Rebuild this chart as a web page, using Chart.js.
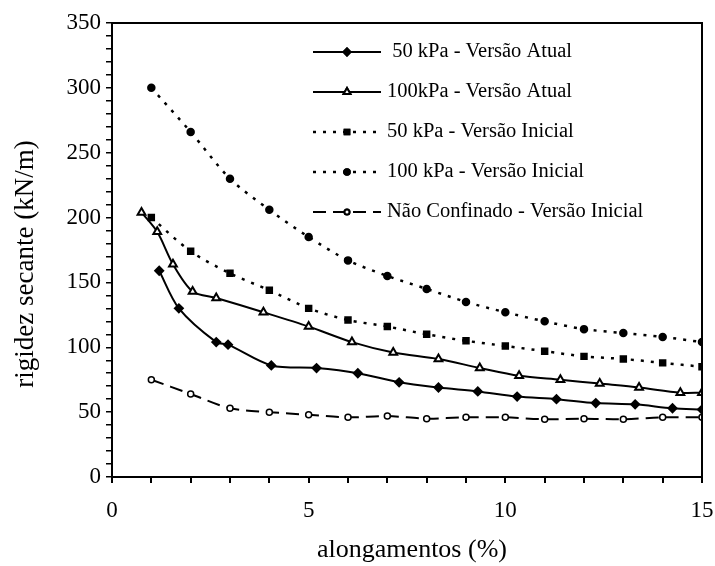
<!DOCTYPE html>
<html>
<head>
<meta charset="utf-8">
<script src="https://cdn.jsdelivr.net/npm/chart.js@4.4.0/dist/chart.umd.min.js"></script>
<style>
  html, body { margin: 0; padding: 0; background: #fff; }
  #wrap { width: 715px; height: 566px; }
</style>
</head>
<body>
<div id="wrap"><canvas id="c" width="715" height="566"></canvas></div>
<script>
// valores
const va50X = [1.2, 1.7, 2.65, 2.95, 4.05, 5.2, 6.25, 7.3, 8.3, 9.3, 10.3, 11.3, 12.3, 13.3, 14.25, 15];
const va50Y = [159, 130, 104, 102, 86, 84, 80, 73, 69, 66, 62, 60, 57, 56, 53, 52];

const va100X = [0.75, 1.15, 1.55, 2.05, 2.65, 3.85, 5, 6.1, 7.15, 8.3, 9.35, 10.35, 11.4, 12.4, 13.4, 14.45, 15];
const va100Y = [204, 189, 164, 143, 138, 127, 116, 104, 96, 91, 84, 78, 75, 72, 69, 65, 65];

const viX = [1, 2, 3, 4, 5, 6, 7, 8, 9, 10, 11, 12, 13, 14, 15];
const vi50Y = [200, 174, 157, 144, 130, 121, 116, 110, 105, 101, 97, 93, 91, 88, 85];
const vi100Y = [300, 266, 230, 206, 185, 167, 155, 145, 135, 127, 120, 114, 111, 108, 104];
const ncY = [75, 64, 53, 50, 48, 46, 47, 45, 46, 46, 44.5, 45, 44.5, 46, 46];

const legendLabels = [
  ' 50 kPa - Versão Atual',
  '100kPa - Versão Atual',
  '50 kPa - Versão Inicial',
  '100 kPa - Versão Inicial',
  'Não Confinado - Versão Inicial'
];
const xTickLabels = [0, 5, 10, 15];
const yTickLabels = [0, 50, 100, 150, 200, 250, 300, 350];
const xTitle = 'alongamentos (%)';
const yTitle = 'rigidez secante (kN/m)';

const FONT = '"Liberation Serif", "Times New Roman", serif';

function pts(xs, ys) {
  return xs.map((x, i) => ({ x: x, y: ys[i] }));
}

const datasets = [
  { label: legendLabels[0], data: pts(va50X, va50Y), borderColor: '#000', borderWidth: 2,
    pointStyle: 'rectRot', pointRadius: 4, pointBackgroundColor: '#000', tension: 0.3 },
  { label: legendLabels[1], data: pts(va100X, va100Y), borderColor: '#000', borderWidth: 2,
    pointStyle: 'triangle', pointRadius: 4.5, pointBackgroundColor: '#fff', pointBorderWidth: 2, tension: 0.3 },
  { label: legendLabels[2], data: pts(viX, vi50Y), borderColor: '#000', borderWidth: 2.5, borderDash: [3, 7],
    pointStyle: 'rect', pointRadius: 3.5, pointBackgroundColor: '#000', tension: 0.3 },
  { label: legendLabels[3], data: pts(viX, vi100Y), borderColor: '#000', borderWidth: 2.5, borderDash: [3, 7],
    pointStyle: 'circle', pointRadius: 3, pointBackgroundColor: '#000', tension: 0.3 },
  { label: legendLabels[4], data: pts(viX, ncY), borderColor: '#000', borderWidth: 2, borderDash: [13, 7],
    pointStyle: 'circle', pointRadius: 3, pointBackgroundColor: '#fff', pointBorderWidth: 1.5, tension: 0.3 }
];

// moldura superior e direita + titulos dos eixos
const framePlugin = {
  id: 'frame',
  afterDraw(chart) {
    const a = chart.chartArea, ctx = chart.ctx;
    ctx.save();
    ctx.strokeStyle = '#000';
    ctx.lineWidth = 2;
    ctx.beginPath();
    ctx.moveTo(a.left, a.top);
    ctx.lineTo(a.right, a.top);
    ctx.lineTo(a.right, a.bottom);
    ctx.stroke();

    ctx.fillStyle = '#000';
    ctx.textAlign = 'center';
    ctx.textBaseline = 'middle';
    ctx.font = '26px ' + FONT;
    ctx.fillText(xTitle, 412, 550);
    ctx.translate(26, 264);
    ctx.rotate(-Math.PI / 2);
    ctx.font = '27px ' + FONT;
    ctx.fillText(yTitle, 0, 0);
    ctx.restore();
  }
};

// legenda desenhada a mao para imitar as amostras de linha
const legendPlugin = {
  id: 'legendBox',
  afterDraw(chart) {
    const ctx = chart.ctx;
    const x0 = 313, x1 = 381, textX = 387, y0 = 52, dy = 40;
    ctx.save();
    chart.data.datasets.forEach((ds, i) => {
      const y = y0 + i * dy;
      ctx.strokeStyle = '#000';
      ctx.lineWidth = ds.borderWidth;
      ctx.setLineDash(ds.borderDash || []);
      ctx.beginPath();
      ctx.moveTo(x0, y);
      ctx.lineTo(x1, y);
      ctx.stroke();
      ctx.setLineDash([]);
      Chart.helpers.drawPoint(ctx, {
        pointStyle: ds.pointStyle,
        radius: ds.pointRadius - 0.5,
        rotation: 0,
        borderWidth: ds.pointBorderWidth || 1
      }, (x0 + x1) / 2, y);
      ctx.fillStyle = ds.pointBackgroundColor;
      ctx.fill();
      ctx.stroke();
      ctx.fillStyle = '#000';
      ctx.font = '20.5px ' + FONT;
      ctx.textBaseline = 'middle';
      ctx.fillText(ds.label, textX, y);
    });
    ctx.restore();
  }
};

new Chart(document.getElementById('c'), {
  type: 'line',
  data: { datasets: datasets },
  options: {
    responsive: false,
    animation: false,
    layout: { autoPadding: false, padding: { top: 23, right: 13, left: 0, bottom: 0 } },
    plugins: { legend: { display: false }, tooltip: { enabled: false } },
    scales: {
      x: {
        type: 'linear', min: 0, max: 15,
        afterFit(s) { s.height = 89; s.paddingLeft = 0; s.paddingRight = 0; },
        ticks: {
          stepSize: 1, autoSkip: false, maxRotation: 0, color: '#000', padding: 14,
          font: { family: FONT, size: 23 },
          callback: v => xTickLabels.includes(v) ? String(v) : ''
        },
        grid: { drawOnChartArea: false, drawTicks: true, tickLength: 6, color: '#000', lineWidth: 2 },
        border: { display: true, color: '#000', width: 2 }
      },
      y: {
        type: 'linear', min: 0, max: 350,
        afterFit(s) { s.width = 112; s.paddingTop = 0; s.paddingBottom = 0; },
        ticks: {
          stepSize: 10, autoSkip: false, color: '#000', padding: 5,
          font: { family: FONT, size: 23 },
          callback: v => yTickLabels.includes(v) ? String(v) : ''
        },
        grid: { drawOnChartArea: false, drawTicks: true, tickLength: 6, color: '#000', lineWidth: 1.5 },
        border: { display: true, color: '#000', width: 2 }
      }
    }
  },
  plugins: [framePlugin, legendPlugin]
});
</script>
</body>
</html>
